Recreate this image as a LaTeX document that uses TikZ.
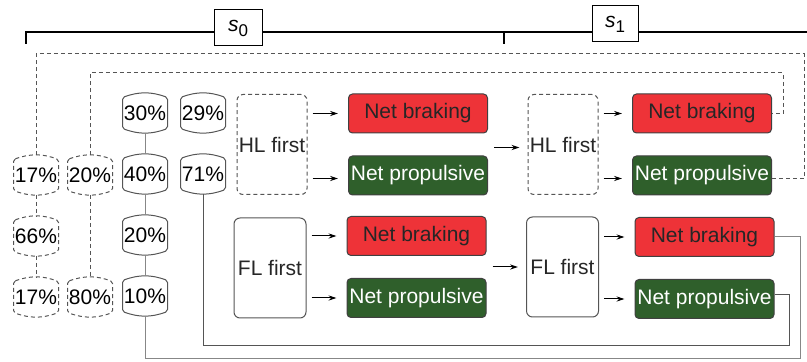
\documentclass[tikz,border=0pt]{standalone}
\usepackage{fontspec}
\setmainfont{Liberation Sans}
\usetikzlibrary{arrows.meta,positioning}
\definecolor{brakered}{RGB}{238,51,56}
\definecolor{propgreen}{RGB}{47,95,43}
\definecolor{linegray}{RGB}{135,135,135}
\definecolor{darkline}{RGB}{85,85,85}
\tikzstyle{pct} = [minimum width=22pt, minimum height=15pt, inner sep=0pt, node distance=30.5pt]
\tikzstyle{dashline} = [darkline, dash pattern=on 2pt off 1.5pt]
\tikzstyle{first} = [rectangle, draw=darkline, rounded corners=3pt,
    minimum width=35pt, minimum height=50pt, inner sep=0pt]
\tikzstyle{brake} = [rectangle, draw=black!75, fill=brakered, text=black!85,
    rounded corners=2pt, minimum width=69.5pt, minimum height=19.5pt, inner sep=0pt, node distance=31pt]
\tikzstyle{prop} = [brake, fill=propgreen, text=white]
\tikzstyle{state} = [rectangle, draw, fill=white, minimum height=18pt, inner sep=0pt]
\tikzstyle{arr} = [-{Stealth[length=4pt,width=2.6pt]}, shorten <=2.5pt, shorten >=5pt]
\tikzstyle{link} = [shorten <=2.2pt, shorten >=2.2pt]
\newcommand{\statelabel}[1]{\textit{s}\raisebox{-2.5pt}{\fontsize{8.5}{9}\selectfont #1}}

\begin{document}
\begin{tikzpicture}[x=0.5pt, y=-0.5pt, font=\fontsize{10.5}{12}\selectfont, line width=0.5pt]
  \useasboundingbox (0,0) rectangle (807,362);
  % State bracket
  \coordinate (brL) at (26,44);
  \coordinate (brM) at (504,44);
  \coordinate (brR) at (807,32);
  \draw[line width=0.7pt] (brL) |- (brR);
  \draw[line width=0.7pt] (brM) -- (brM |- brR);
  \node [state, minimum width=24pt] (s0) at (238,28) {\statelabel{0}};
  \node [state, minimum width=23pt] (s1) at (615,24) {\statelabel{1}};
  % Place percentage cylinders
  \node [pct] (a17) at (36,175) {17\%};
  \node [pct, below of=a17] (a66) {66\%};
  \node [pct, below of=a66] (a17b) {17\%};
  \node [pct] (b20) at (90,175) {20\%};
  \node [pct, below of=b20, node distance=61pt] (b80) {80\%};
  \node [pct] (c30) at (145,113) {30\%};
  \node [pct, below of=c30] (c40) {40\%};
  \node [pct, below of=c40] (c20) {20\%};
  \node [pct, below of=c20] (c10) {10\%};
  \node [pct] (d29) at (203,113) {29\%};
  \node [pct, below of=d29] (d71) {71\%};
  \foreach \n in {a17,a66,a17b,b20,b80}
    \draw[dashline, rounded corners=1pt] (\n.north west) to[bend left=20] (\n.north east) -- (\n.south east)
      to[bend left=20] (\n.south west) -- cycle;
  \foreach \n in {c30,c40,c20,c10,d29,d71}
    \draw[darkline, rounded corners=1pt] (\n.north west) to[bend left=20] (\n.north east) -- (\n.south east)
      to[bend left=20] (\n.south west) -- cycle;
  % Place first-limb boxes
  \node [first, dashline, draw, text=black!85] (hl0) at (272,144.5) {HL first};
  \node [first, minimum width=36pt, text=black!85] (fl0) at (270,268) {FL first};
  \node [first, dashline, draw, text=black!85] (hl1) at (563,144.5) {HL first};
  \node [first, minimum width=36pt, text=black!85] (fl1) at (562.5,267) {FL first};
  % Place outcome boxes
  \node [brake] (nb0) at (418,113.5) {Net braking};
  \node [prop, below of=nb0] (np0) {Net propulsive};
  \node [brake] (nbF0) at (416.5,236) {Net braking};
  \node [prop, below of=nbF0] (npF0) {Net propulsive};
  \node [brake] (nb1) at (702,113.5) {Net braking};
  \node [prop, below of=nb1] (np1) {Net propulsive};
  \node [brake] (nbF1) at (704.5,237) {Net braking};
  \node [prop, below of=nbF1] (npF1) {Net propulsive};
  % Draw arrows
  \draw[arr] (hl0.east |- nb0) -- (nb0);
  \draw[arr] ([yshift=-1.5pt]hl0.east |- np0) -- ([yshift=-1.5pt]np0.west);
  \draw[arr] (fl0.east |- nbF0) -- (nbF0);
  \draw[arr] (fl0.east |- npF0) -- (npF0);
  \draw[arr] (hl1.east |- nb1) -- (nb1);
  \draw[arr] ([yshift=-1.5pt]hl1.east |- np1) -- ([yshift=-1.5pt]np1.west);
  \draw[arr] (fl1.east |- nbF1) -- (nbF1);
  \draw[arr] (fl1.east |- npF1) -- (npF1);
  \draw[arr, shorten <=3pt, shorten >=4pt] ([yshift=-1.5pt]nb0.east |- hl1) -- ([yshift=-1.5pt]hl1.west);
  \draw[arr, shorten <=3pt, shorten >=4pt] (nbF0.east |- fl1) -- (fl1);
  % Draw links
  \draw[dashline, link] (a17) -- (a66);
  \draw[dashline, link] (a66) -- (a17b);
  \draw[dashline, link] (b20) -- (b80);
  \draw[linegray, link] (c30) -- (c40);
  \draw[linegray, link] (c40) -- (c20);
  \draw[linegray, link] (c20) -- (c10);
  \coordinate (loopA) at (804,54);
  \coordinate (loopB) at (783,73);
  \coordinate (loopC) at (800,359);
  \coordinate (loopD) at (789,346);
  \draw[dashline, shorten <=2.2pt] (a17.north) |- (loopA) |- ([yshift=-1.5pt]np1.east);
  \draw[dashline, shorten <=2.2pt] (b20.north) |- (loopB) |- (nb1.east);
  \draw[linegray, shorten <=2.2pt] (c10.south) |- (loopC) |- (nbF1.east);
  \draw[darkline, shorten <=2.2pt] (d71.south) |- (loopD) |- ([yshift=2pt]npF1.east);
\end{tikzpicture}
\end{document}
